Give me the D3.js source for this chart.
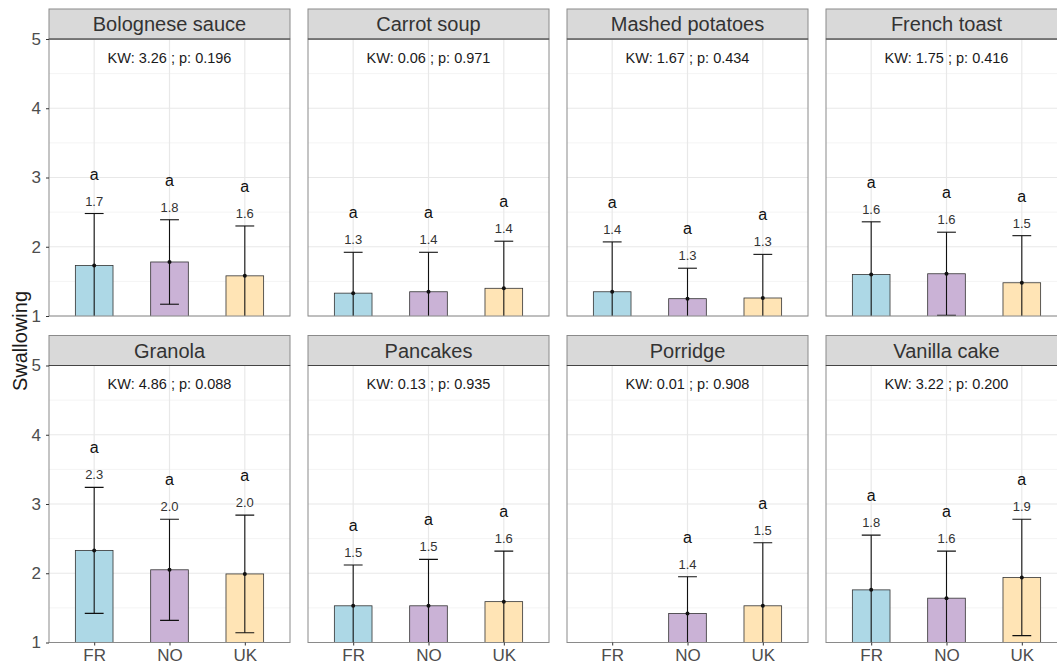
<!DOCTYPE html>
<html>
<head>
<meta charset="utf-8">
<script src="https://cdn.jsdelivr.net/npm/d3@7"></script>
<style>
  body { margin: 0; background: #fff; }
  svg { display: block; font-family: "Liberation Sans", Arial, sans-serif; }
</style>
</head>
<body>
<div id="chart"></div>
<script>
// data
const foods = ["Bolognese sauce", "Carrot soup", "Mashed potatoes", "French toast",
               "Granola", "Pancakes", "Porridge", "Vanilla cake"];
const countries = ["FR", "NO", "UK"];
const means = [
  [1.73, 1.78, 1.58],
  [1.33, 1.35, 1.40],
  [1.35, 1.25, 1.26],
  [1.60, 1.61, 1.48],
  [2.33, 2.05, 1.99],
  [1.53, 1.53, 1.59],
  [null, 1.42, 1.53],
  [1.76, 1.64, 1.94]
];
const sds = [
  [0.75, 0.61, 0.72],
  [0.59, 0.57, 0.68],
  [0.72, 0.44, 0.63],
  [0.76, 0.60, 0.68],
  [0.91, 0.73, 0.85],
  [0.59, 0.67, 0.73],
  [null, 0.53, 0.91],
  [0.79, 0.68, 0.84]
];
const meanLabels = [
  ["1.7", "1.8", "1.6"],
  ["1.3", "1.4", "1.4"],
  ["1.4", "1.3", "1.3"],
  ["1.6", "1.6", "1.5"],
  ["2.3", "2.0", "2.0"],
  ["1.5", "1.5", "1.6"],
  [null, "1.4", "1.5"],
  ["1.8", "1.6", "1.9"]
];
const groupLetters = ["a", "a", "a"];
const kwStat = [3.26, 0.06, 1.67, 1.75, 4.86, 0.13, 0.01, 3.22];
const kwP = [0.196, 0.971, 0.434, 0.416, 0.088, 0.935, 0.908, 0.200];
const yTicks = [1, 2, 3, 4, 5];
const yMinor = [1.5, 2.5, 3.5, 4.5];

const colors = {FR: "#add8e6", NO: "#cab2d6", UK: "#ffe4b5"};

const W = 1057, H = 668;
const marginLeft = 49, marginTop = 9;
const pw = 241, ph = 277, gapX = 18, gapY = 19.5, stripH = 30;

const svg = d3.select("#chart").append("svg")
  .attr("width", W).attr("height", H);

const x = d3.scalePoint().domain(countries).range([0, pw]).padding(0.6);
const y = d3.scaleLinear().domain([1, 5]).range([ph, 0]);
const barW = x.step() * 0.5;
const capW = x.step() * 0.25;

// y axis title
svg.append("text")
  .attr("transform", "translate(27,341) rotate(-90)")
  .attr("text-anchor", "middle")
  .style("font-size", "20px")
  .style("fill", "#1a1a1a")
  .text("Swallowing");

foods.forEach(function(food, i) {
  const col = i % 4, row = Math.floor(i / 4);
  const px = marginLeft + col * (pw + gapX);
  const py = marginTop + row * (stripH + ph + gapY) + stripH;

  const g = svg.append("g").attr("transform", `translate(${px},${py})`);

  // panel background + grid
  g.append("rect").attr("width", pw).attr("height", ph).attr("fill", "#fff");
  g.selectAll(".minor").data(yMinor).join("line")
    .attr("x1", 0).attr("x2", pw)
    .attr("y1", d => y(d)).attr("y2", d => y(d))
    .attr("stroke", "#f4f4f4").attr("stroke-width", 1);
  g.selectAll(".major").data(yTicks).join("line")
    .attr("x1", 0).attr("x2", pw)
    .attr("y1", d => y(d)).attr("y2", d => y(d))
    .attr("stroke", "#e8e8e8").attr("stroke-width", 1.2);
  g.selectAll(".vgrid").data(countries).join("line")
    .attr("x1", d => x(d)).attr("x2", d => x(d))
    .attr("y1", 0).attr("y2", ph)
    .attr("stroke", "#e8e8e8").attr("stroke-width", 1.2);

  const clipId = "clip" + i;
  g.append("clipPath").attr("id", clipId)
    .append("rect").attr("width", pw).attr("height", ph);

  const rows = countries.map((c, j) => ({
    c: c, m: means[i][j], sd: sds[i][j], lab: meanLabels[i][j], letter: groupLetters[j]
  })).filter(d => d.m !== null);

  const marks = g.append("g").attr("clip-path", `url(#${clipId})`);

  marks.selectAll("rect.bar").data(rows).join("rect")
    .attr("class", "bar")
    .attr("x", d => x(d.c) - barW / 2)
    .attr("width", barW)
    .attr("y", d => y(d.m))
    .attr("height", d => y(0) - y(d.m))
    .attr("fill", d => colors[d.c])
    .attr("stroke", "#333")
    .attr("stroke-width", 0.8);

  // error bars
  marks.selectAll("line.eb").data(rows).join("line")
    .attr("x1", d => x(d.c)).attr("x2", d => x(d.c))
    .attr("y1", d => y(d.m - d.sd)).attr("y2", d => y(d.m + d.sd))
    .attr("stroke", "#111").attr("stroke-width", 1.1);
  marks.selectAll("line.capHi").data(rows).join("line")
    .attr("x1", d => x(d.c) - capW / 2).attr("x2", d => x(d.c) + capW / 2)
    .attr("y1", d => y(d.m + d.sd)).attr("y2", d => y(d.m + d.sd))
    .attr("stroke", "#111").attr("stroke-width", 1.1);
  marks.selectAll("line.capLo").data(rows).join("line")
    .attr("x1", d => x(d.c) - capW / 2).attr("x2", d => x(d.c) + capW / 2)
    .attr("y1", d => y(d.m - d.sd)).attr("y2", d => y(d.m - d.sd))
    .attr("stroke", "#111").attr("stroke-width", 1.1);
  marks.selectAll("circle").data(rows).join("circle")
    .attr("cx", d => x(d.c)).attr("cy", d => y(d.m))
    .attr("r", 2).attr("fill", "#111");

  // mean labels and group letters
  g.selectAll("text.val").data(rows).join("text")
    .attr("class", "val")
    .attr("x", d => x(d.c)).attr("y", d => y(d.m + d.sd + 0.115))
    .attr("text-anchor", "middle")
    .style("font-size", "13px").style("fill", "#333")
    .text(d => d.lab);
  g.selectAll("text.grp").data(rows).join("text")
    .attr("class", "grp")
    .attr("x", d => x(d.c)).attr("y", d => y(d.m + d.sd + 0.49))
    .attr("text-anchor", "middle")
    .style("font-size", "16px").style("fill", "#111")
    .text(d => d.letter);

  // KW annotation
  g.append("text")
    .attr("x", pw / 2).attr("y", y(4.73))
    .attr("dy", "0.35em")
    .attr("text-anchor", "middle")
    .style("font-size", "14.5px").style("fill", "#1a1a1a")
    .text(`KW: ${d3.format(".2f")(kwStat[i])} ; p: ${d3.format(".3f")(kwP[i])}`);

  // panel border
  g.append("rect").attr("width", pw).attr("height", ph)
    .attr("fill", "none").attr("stroke", "#8a8a8a").attr("stroke-width", 1);

  // strip
  g.append("rect").attr("y", -stripH).attr("width", pw).attr("height", stripH)
    .attr("fill", "#d9d9d9").attr("stroke", "#8a8a8a").attr("stroke-width", 1);
  g.append("line").attr("x1", 0).attr("x2", pw).attr("y1", 0).attr("y2", 0)
    .attr("stroke", "#444").attr("stroke-width", 1.2);
  g.append("text")
    .attr("x", pw / 2).attr("y", -stripH / 2).attr("dy", "0.36em")
    .attr("text-anchor", "middle")
    .style("font-size", "20px").style("fill", "#333")
    .text(food);

  // axes
  if (col === 0) {
    const ay = g.append("g").call(d3.axisLeft(y).tickValues(yTicks)
      .tickFormat(d3.format("d")).tickSize(3).tickPadding(5));
    ay.select(".domain").remove();
    ay.selectAll("line").attr("stroke", "#333");
    ay.selectAll("text").style("font-size", "17px").style("fill", "#4d4d4d")
      .style("font-family", "'Liberation Sans', Arial, sans-serif");
  }
  if (row === 1) {
    const ax = g.append("g").attr("transform", `translate(0,${ph})`)
      .call(d3.axisBottom(x).tickSize(3).tickPadding(3));
    ax.select(".domain").remove();
    ax.selectAll("line").attr("stroke", "#333");
    ax.selectAll("text").style("font-size", "17px").style("fill", "#4d4d4d")
      .style("font-family", "'Liberation Sans', Arial, sans-serif");
  }
});
</script>
</body>
</html>
